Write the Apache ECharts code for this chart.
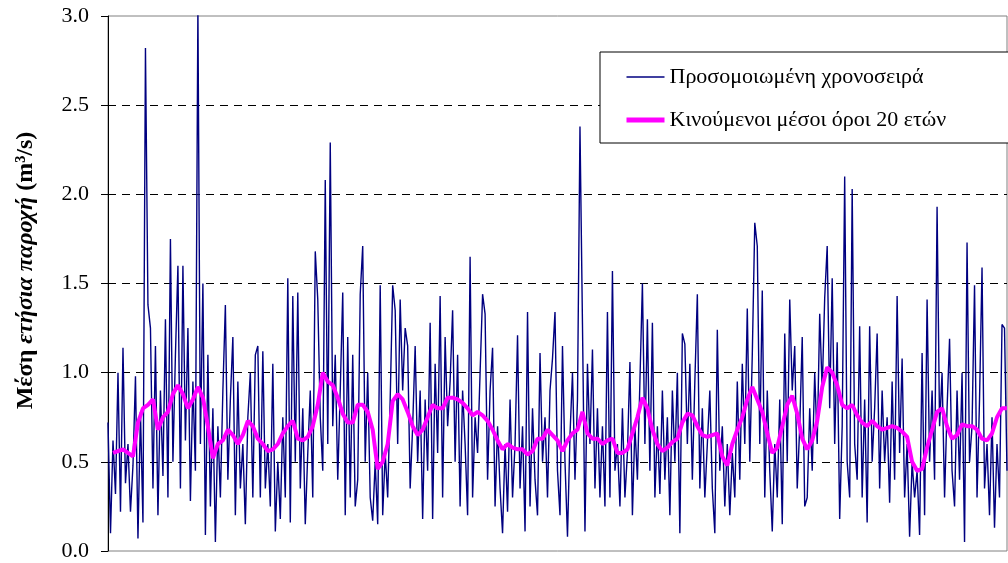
<!DOCTYPE html>
<html>
<head>
<meta charset="utf-8">
<script src="https://cdn.jsdelivr.net/npm/echarts@6/dist/echarts.min.js"></script>
<style>
html, body { margin: 0; padding: 0; background: #fff; }
#chart { width: 1008px; height: 563px; }
</style>
</head>
<body>
<div id="chart"></div>
<script>
// ονόματα σειρών
const seriesNames = ['Προσομοιωμένη χρονοσειρά', 'Κινούμενοι μέσοι όροι 20 ετών']
const yTicks = [0, 0.5, 1.0, 1.5, 2.0, 2.5, 3.0]

// προσομοιωμένη χρονοσειρά (τιμές ανά έτος, διαβασμένες από το γράφημα)
const flow = [
  0.72, 0.10, 0.62, 0.32, 1.00, 0.22, 1.14, 0.38, 0.60, 0.22, 0.48, 0.98, 0.07, 0.78, 0.16, 2.82, 1.38, 1.25, 0.35, 1.15,
  0.20, 0.90, 0.42, 1.30, 0.30, 1.75, 0.50, 1.10, 1.60, 0.35, 1.60, 0.62, 1.25, 0.28, 0.95, 0.45, 3.05, 0.60, 1.50, 0.09,
  1.10, 0.25, 0.80, 0.05, 0.70, 0.30, 0.90, 1.38, 0.40, 0.85, 1.20, 0.20, 0.95, 0.35, 0.60, 0.15, 0.75, 1.00, 0.30, 1.10,
  1.15, 0.30, 1.12, 0.35, 0.60, 0.25, 1.05, 0.11, 0.50, 0.18, 0.75, 0.30, 1.53, 0.16, 1.43, 0.50, 1.45, 0.35, 0.80, 0.15,
  0.55, 0.90, 0.30, 1.68, 1.41, 0.75, 0.45, 2.08, 0.60, 2.29, 0.70, 1.10, 0.40, 0.90, 1.45, 0.20, 1.20, 0.30, 1.10, 0.25,
  0.40, 1.44, 1.71, 0.50, 1.00, 0.30, 0.17, 0.50, 0.15, 1.49, 0.20, 0.55, 0.30, 0.85, 1.49, 1.35, 0.60, 1.41, 0.90, 1.25,
  1.15, 0.35, 0.70, 1.15, 0.50, 0.90, 0.18, 0.85, 0.45, 1.28, 0.18, 1.05, 0.55, 1.43, 0.30, 1.20, 0.70, 0.95, 1.35, 0.50,
  1.10, 0.25, 0.90, 0.60, 0.20, 1.65, 0.30, 0.75, 0.55, 1.00, 1.44, 1.33, 0.40, 0.90, 1.14, 0.25, 0.70, 0.35, 0.10, 0.60,
  0.22, 0.85, 0.30, 0.60, 1.21, 0.35, 0.70, 0.11, 1.34, 0.25, 0.80, 0.40, 0.20, 1.11, 0.50, 0.75, 0.30, 0.90, 1.08, 1.34,
  0.45, 0.20, 1.15, 0.50, 0.08, 0.65, 1.00, 0.40, 0.85, 2.38, 1.27, 0.11, 1.05, 0.60, 1.13, 0.35, 0.80, 0.30, 0.70, 0.25,
  1.34, 0.30, 1.57, 0.45, 0.60, 0.25, 0.80, 0.30, 0.55, 1.06, 0.20, 0.70, 0.40, 0.95, 1.50, 0.60, 1.30, 0.45, 1.28, 0.30,
  0.70, 0.32, 0.90, 0.40, 0.75, 0.20, 0.90, 0.50, 1.00, 0.10, 1.22, 1.16, 0.60, 1.05, 0.40, 0.95, 1.44, 0.35, 0.80, 0.30,
  0.60, 0.90, 0.35, 0.10, 1.24, 0.45, 0.70, 0.25, 0.60, 0.20, 0.55, 0.30, 0.95, 0.40, 1.05, 0.60, 1.36, 0.50, 1.10, 1.84,
  1.71, 0.60, 1.46, 0.30, 0.90, 0.45, 0.11, 0.60, 0.30, 0.85, 0.15, 1.22, 0.50, 1.41, 0.90, 1.15, 0.35, 0.70, 1.20, 0.25,
  0.30, 0.80, 0.45, 1.00, 0.60, 1.33, 0.90, 1.42, 1.71, 0.80, 1.53, 0.60, 1.17, 0.18, 0.70, 2.10, 0.50, 0.30, 2.03, 0.60,
  0.40, 1.26, 0.30, 0.85, 0.16, 1.26, 0.50, 0.80, 1.22, 0.35, 0.90, 0.50, 0.75, 0.27, 0.95, 0.40, 1.43, 0.55, 1.08, 0.30,
  0.60, 0.08, 0.50, 0.30, 0.45, 0.09, 1.11, 0.20, 1.41, 0.50, 0.90, 0.40, 1.93, 0.70, 1.00, 0.30, 0.80, 1.19, 0.45, 0.25,
  0.90, 0.40, 1.00, 0.05, 1.73, 0.50, 0.70, 1.49, 0.30, 0.85, 1.59, 0.35, 0.60, 0.20, 0.75, 0.13, 0.60, 0.30, 1.27, 1.25, 0.45
]

// κινούμενοι μέσοι όροι (ένα σημείο κάθε 2 έτη, από το έτος 2)
const maStartYear = 2
const maStepYears = 2
const movingAvg = [
  0.55, 0.56, 0.57, 0.55, 0.53, 0.72, 0.80, 0.82, 0.85, 0.68, 0.75, 0.78, 0.88, 0.93, 0.88, 0.80, 0.85, 0.92, 0.86, 0.70,
  0.52, 0.60, 0.62, 0.68, 0.65, 0.60, 0.65, 0.73, 0.70, 0.63, 0.60, 0.56, 0.57, 0.60, 0.66, 0.70, 0.73, 0.63, 0.62, 0.64,
  0.70, 0.82, 1.00, 0.95, 0.93, 0.86, 0.77, 0.72, 0.72, 0.82, 0.82, 0.78, 0.68, 0.46, 0.50, 0.60, 0.84, 0.88, 0.85, 0.78,
  0.70, 0.65, 0.68, 0.75, 0.82, 0.80, 0.80, 0.86, 0.86, 0.85, 0.83, 0.80, 0.76, 0.78, 0.76, 0.73, 0.68, 0.62, 0.57, 0.60,
  0.58, 0.57, 0.57, 0.54, 0.56, 0.63, 0.63, 0.68, 0.65, 0.62, 0.56, 0.62, 0.66, 0.68, 0.78, 0.66, 0.63, 0.63, 0.60, 0.62,
  0.63, 0.55, 0.55, 0.57, 0.66, 0.75, 0.86, 0.80, 0.68, 0.60, 0.56, 0.58, 0.61, 0.63, 0.72, 0.77, 0.76, 0.70, 0.65, 0.64,
  0.65, 0.66, 0.53, 0.48, 0.60, 0.68, 0.75, 0.85, 0.92, 0.85, 0.78, 0.66, 0.55, 0.58, 0.70, 0.82, 0.87, 0.77, 0.63, 0.57,
  0.62, 0.73, 0.92, 1.03, 1.00, 0.93, 0.82, 0.80, 0.82, 0.76, 0.72, 0.70, 0.73, 0.70, 0.68, 0.69, 0.70, 0.69, 0.67, 0.64,
  0.50, 0.45, 0.46, 0.58, 0.68, 0.78, 0.80, 0.70, 0.63, 0.65, 0.71, 0.70, 0.70, 0.68, 0.63, 0.62, 0.66, 0.75, 0.80, 0.80
]

const chart = echarts.init(document.getElementById('chart'))

const flowData = flow.map((v, i) => [i, v])
const maData = movingAvg.map((v, k) => [maStartYear + k * maStepYears, v])

const option = {
  animation: false,
  backgroundColor: '#fff',
  textStyle: { fontFamily: 'Liberation Serif' },
  grid: {
    left: 108,
    right: 1,
    top: 16,
    bottom: 12,
    show: true,
    borderColor: '#808080',
    borderWidth: 1
  },
  legend: {
    data: [
      { name: seriesNames[0], lineStyle: { width: 1.4, color: '#000080' } },
      { name: seriesNames[1], lineStyle: { width: 5, color: '#ff00ff' } }
    ],
    orient: 'vertical',
    left: 600,
    top: 52,
    padding: [14, 80, 12, 24],
    itemGap: 21,
    itemWidth: 38,
    itemHeight: 22,
    backgroundColor: '#fff',
    borderColor: '#000',
    borderWidth: 1,
    itemStyle: { opacity: 0 }, // μόνο γραμμή, χωρίς κύκλο
    textStyle: {
      fontFamily: 'Liberation Serif',
      fontSize: 22,
      color: '#000',
      lineHeight: 22
    }
  },
  xAxis: {
    type: 'value',
    min: 0,
    max: flow.length - 1,
    axisLine: { show: false },
    axisTick: { show: false },
    axisLabel: { show: false },
    splitLine: { show: false }
  },
  yAxis: {
    type: 'value',
    min: yTicks[0],
    max: yTicks[yTicks.length - 1],
    interval: 0.5,
    name: '{b|Μέση }{i|ετήσια παροχή}{b| (m³/s)}',
    nameLocation: 'middle',
    nameGap: 70,
    nameTextStyle: {
      padding: [0, 0, 0, 26],
      rich: {
        b: { fontFamily: 'Liberation Serif', fontSize: 24, fontWeight: 'bold', color: '#000' },
        i: { fontFamily: 'Liberation Serif', fontSize: 24, fontWeight: 'bold', fontStyle: 'italic', color: '#000' }
      }
    },
    axisLine: { show: true, lineStyle: { color: '#000', width: 1 } },
    axisTick: { show: true, length: 7, lineStyle: { color: '#000' } },
    axisLabel: {
      color: '#000',
      fontFamily: 'Liberation Serif',
      fontSize: 22,
      margin: 19,
      formatter: (v) => v.toFixed(1)
    },
    splitLine: {
      show: true,
      showMinLine: false,
      showMaxLine: false,
      lineStyle: { color: '#000', width: 1, type: [8, 6] }
    }
  },
  series: [
    {
      name: seriesNames[0],
      type: 'line',
      data: flowData,
      showSymbol: false,
      symbol: 'none',
      lineStyle: { color: '#000080', width: 1.4 },
      itemStyle: { color: '#000080' },
      z: 2
    },
    {
      name: seriesNames[1],
      type: 'line',
      data: maData,
      showSymbol: false,
      symbol: 'none',
      lineStyle: { color: '#ff00ff', width: 4 },
      itemStyle: { color: '#ff00ff' },
      z: 3
    }
  ]
}

chart.setOption(option)
window.addEventListener('resize', () => chart.resize())
</script>
</body>
</html>
